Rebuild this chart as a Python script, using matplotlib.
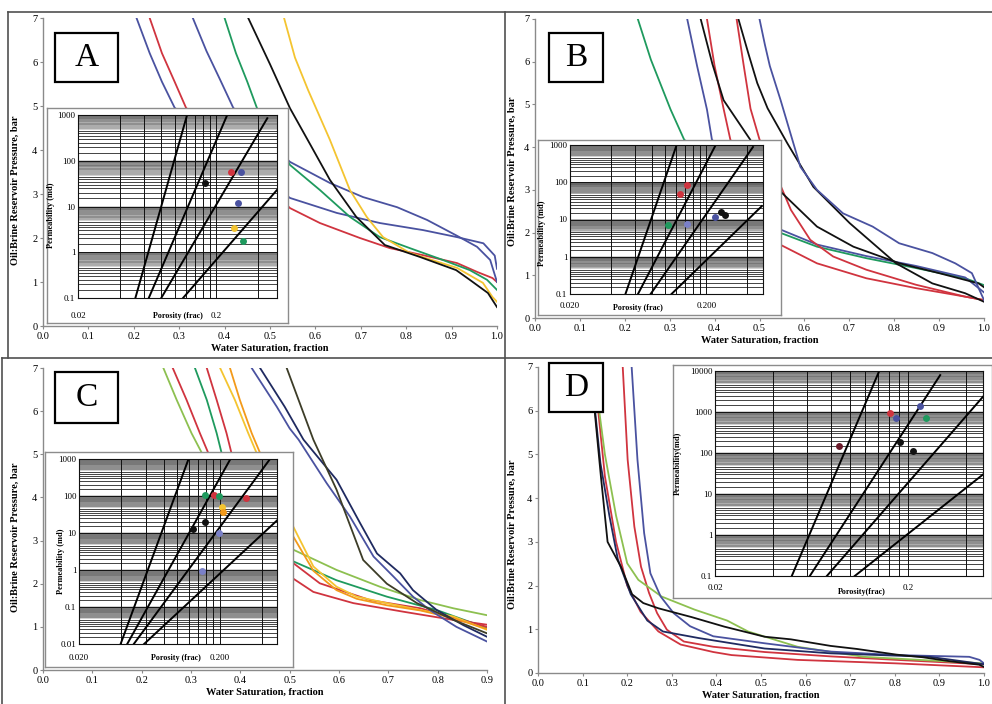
import numpy as np
import matplotlib.pyplot as plt
import matplotlib.patches as patches
from matplotlib.lines import Line2D
from matplotlib.ticker import NullFormatter

plt.rcParams['font.family'] = ['Liberation Serif', 'DejaVu Serif']

W, H = 992, 704

BLUE = '#4a52a0'
RED = '#d0343f'
GREEN = '#1f9a5e'
YELLOW = '#f4c430'
ORANGE = '#f39a1a'
LGREEN = '#8dc050'
BLACK = '#111111'
OLIVE = '#3d3d28'
NAVY = '#1f2a60'
MAROON = '#6a1a2a'
LBLUE = '#7a80c8'

# ---- panel A: capillary pressure curves ----
a_blue1_sw = [0.206, 0.235, 0.262, 0.29, 0.544, 0.647, 0.742, 0.837, 0.912, 0.97, 0.995, 1.0]
a_blue1_p = [7.0, 6.2, 5.55, 4.96, 2.91, 2.57, 2.34, 2.18, 2.02, 1.88, 1.6, 1.3]
a_red_sw = [0.235, 0.262, 0.29, 0.315, 0.544, 0.61, 0.698, 0.764, 0.837, 0.912, 0.956, 0.99, 1.0]
a_red_p = [7.0, 6.2, 5.55, 4.96, 2.68, 2.34, 2.0, 1.77, 1.61, 1.43, 1.23, 1.09, 1.0]
a_blue2_sw = [0.33, 0.36, 0.39, 0.419, 0.544, 0.632, 0.705, 0.78, 0.846, 0.912, 0.956, 0.985, 1.0]
a_blue2_p = [7.0, 6.25, 5.6, 4.96, 3.73, 3.25, 2.93, 2.7, 2.41, 2.05, 1.8, 1.5, 1.0]
a_green_sw = [0.40, 0.425, 0.45, 0.471, 0.544, 0.61, 0.676, 0.742, 0.808, 0.881, 0.94, 0.978, 1.0]
a_green_p = [7.0, 6.2, 5.55, 4.96, 3.66, 3.09, 2.48, 2.02, 1.77, 1.5, 1.27, 1.05, 0.82]
a_black_sw = [0.452, 0.5, 0.544, 0.59, 0.632, 0.69, 0.753, 0.83, 0.91, 0.94, 0.98, 1.0]
a_black_p = [7.0, 5.95, 4.95, 4.1, 3.32, 2.48, 1.84, 1.57, 1.27, 1.05, 0.75, 0.43]
a_yellow_sw = [0.531, 0.555, 0.584, 0.632, 0.676, 0.713, 0.749, 0.808, 0.912, 0.969, 0.99, 1.0]
a_yellow_p = [7.0, 6.1, 5.36, 4.23, 3.09, 2.48, 2.02, 1.66, 1.32, 0.98, 0.66, 0.55]

# ---- panel B ----
b_green_sw = [0.229, 0.258, 0.302, 0.332, 0.54, 0.628, 0.738, 0.848, 0.958, 1.0]
b_green_p = [7.0, 6.05, 4.88, 4.18, 2.02, 1.67, 1.4, 1.17, 0.93, 0.77]
b_blue1_sw = [0.339, 0.361, 0.383, 0.394, 0.54, 0.628, 0.738, 0.848, 0.958, 1.0]
b_blue1_p = [7.0, 5.9, 4.88, 4.18, 2.1, 1.72, 1.45, 1.22, 0.95, 0.6]
b_black1_sw = [0.369, 0.395, 0.42, 0.479, 0.543, 0.628, 0.709, 0.812, 0.9, 0.988, 1.0]
b_black1_p = [7.0, 5.95, 5.1, 4.18, 3.0, 2.14, 1.67, 1.28, 1.05, 0.81, 0.72]
b_red1_sw = [0.383, 0.40, 0.42, 0.435, 0.54, 0.628, 0.738, 0.848, 0.958, 1.0]
b_red1_p = [7.0, 5.9, 4.9, 4.18, 1.75, 1.28, 0.93, 0.7, 0.5, 0.42]
b_red2_sw = [0.449, 0.465, 0.48, 0.5, 0.54, 0.57, 0.613, 0.664, 0.738, 0.848, 0.958, 1.0]
b_red2_p = [7.0, 5.9, 4.9, 4.18, 3.27, 2.53, 1.83, 1.44, 1.13, 0.78, 0.5, 0.42]
b_black2_sw = [0.453, 0.475, 0.495, 0.518, 0.562, 0.62, 0.701, 0.804, 0.885, 0.958, 1.0]
b_black2_p = [7.0, 6.2, 5.5, 4.91, 4.09, 3.07, 2.22, 1.28, 0.81, 0.58, 0.38]
b_blue2_sw = [0.5, 0.512, 0.523, 0.547, 0.591, 0.628, 0.686, 0.752, 0.811, 0.885, 0.936, 0.973, 1.0]
b_blue2_p = [7.0, 6.4, 5.9, 5.1, 3.54, 3.0, 2.45, 2.14, 1.75, 1.52, 1.28, 1.05, 0.42]

# ---- panel C ----
c_lgreen_sw = [0.244, 0.271, 0.301, 0.322, 0.507, 0.595, 0.683, 0.765, 0.832, 0.9]
c_lgreen_p = [7.0, 6.26, 5.49, 5.03, 2.79, 2.32, 1.93, 1.62, 1.43, 1.27]
c_red1_sw = [0.263, 0.291, 0.318, 0.335, 0.507, 0.548, 0.629, 0.731, 0.832, 0.9]
c_red1_p = [7.0, 6.26, 5.49, 5.03, 2.12, 1.81, 1.55, 1.35, 1.16, 1.05]
c_green_sw = [0.308, 0.332, 0.352, 0.362, 0.507, 0.595, 0.697, 0.798, 0.9]
c_green_p = [7.0, 6.26, 5.49, 5.03, 2.52, 2.08, 1.7, 1.39, 0.97]
c_red2_sw = [0.332, 0.352, 0.372, 0.382, 0.507, 0.561, 0.663, 0.765, 0.9]
c_red2_p = [7.0, 6.26, 5.49, 5.03, 2.48, 2.01, 1.62, 1.43, 1.0]
c_yellow_sw = [0.359, 0.389, 0.416, 0.433, 0.507, 0.548, 0.595, 0.636, 0.697, 0.765, 0.832, 0.9]
c_yellow_p = [7.0, 6.26, 5.49, 5.03, 3.33, 2.4, 1.93, 1.7, 1.55, 1.39, 1.24, 0.93]
c_orange_sw = [0.379, 0.399, 0.423, 0.44, 0.507, 0.548, 0.595, 0.636, 0.697, 0.765, 0.832, 0.9]
c_orange_p = [7.0, 6.26, 5.49, 5.03, 3.1, 2.3, 1.85, 1.65, 1.5, 1.38, 1.2, 0.95]
c_blue1_sw = [0.423, 0.474, 0.5, 0.518, 0.575, 0.622, 0.67, 0.71, 0.75, 0.784, 0.838, 0.9]
c_blue1_p = [7.0, 6.1, 5.6, 5.34, 4.33, 3.56, 2.63, 2.17, 1.7, 1.39, 1.0, 0.66]
c_blue2_sw = [0.44, 0.49, 0.528, 0.595, 0.643, 0.677, 0.724, 0.75, 0.798, 0.852, 0.9]
c_blue2_p = [7.0, 6.1, 5.34, 4.41, 3.4, 2.7, 2.24, 1.85, 1.39, 1.04, 0.77]
c_olive_sw = [0.494, 0.52, 0.548, 0.595, 0.649, 0.697, 0.758, 0.832, 0.9]
c_olive_p = [7.0, 6.2, 5.34, 4.18, 2.55, 2.0, 1.55, 1.16, 0.85]

# ---- panel D ----
d_red_sw = [0.19, 0.201, 0.216, 0.231, 0.249, 0.267, 0.289, 0.327, 0.393, 0.508, 0.656, 0.804, 1.0]
d_red_p = [7.0, 4.88, 3.35, 2.43, 1.83, 1.37, 0.99, 0.72, 0.6, 0.48, 0.38, 0.3, 0.2]
d_red2_sw = [0.11, 0.13, 0.15, 0.175, 0.2, 0.23, 0.27, 0.32, 0.393, 0.434, 0.582, 0.804, 1.0]
d_red2_p = [7.0, 6.5, 4.5, 3.0, 2.0, 1.4, 0.95, 0.65, 0.48, 0.41, 0.3, 0.22, 0.13]
d_blue_sw = [0.21, 0.223, 0.238, 0.252, 0.275, 0.304, 0.341, 0.393, 0.508, 0.656, 0.804, 0.967, 0.99, 1.0]
d_blue_p = [7.0, 4.88, 3.2, 2.28, 1.75, 1.37, 1.07, 0.84, 0.68, 0.49, 0.41, 0.37, 0.3, 0.22]
d_navy_sw = [0.11, 0.125, 0.14, 0.16, 0.179, 0.208, 0.245, 0.28, 0.36, 0.508, 0.656, 0.878, 1.0]
d_navy_p = [7.0, 6.3, 4.8, 3.6, 2.6, 1.8, 1.2, 0.95, 0.8, 0.56, 0.45, 0.37, 0.2]
d_lgreen_sw = [0.12, 0.129, 0.15, 0.175, 0.2, 0.225, 0.277, 0.351, 0.424, 0.471, 0.582, 0.73, 1.0]
d_lgreen_p = [7.0, 6.64, 5.0, 3.6, 2.51, 2.13, 1.75, 1.45, 1.2, 0.95, 0.6, 0.37, 0.22]
d_black_sw = [0.11, 0.127, 0.141, 0.156, 0.186, 0.211, 0.236, 0.27, 0.344, 0.418, 0.508, 0.567,
              0.656, 0.715, 0.804, 0.863, 0.923, 0.989, 1.0]
d_black_p = [7.0, 6.0, 4.5, 3.0, 2.43, 1.8, 1.6, 1.48, 1.28, 1.06, 0.83, 0.77,
             0.62, 0.55, 0.42, 0.36, 0.27, 0.19, 0.14]

# ---- inset data: porosity (frac) vs permeability (md) ----
a_line_phi = [[0.052, 0.123], [0.065, 0.24], [0.080, 0.468], [0.115, 0.55]]
a_line_k = [[0.1, 1000], [0.1, 1000], [0.1, 850], [0.1, 23]]
a_pt_phi = [0.256, 0.30, 0.165, 0.287, 0.267, 0.31]
a_pt_k = [58, 58, 32, 12.2, 3.4, 1.8]
a_pt_col = [RED, BLUE, BLACK, BLUE, YELLOW, GREEN]

b_line_phi = [[0.051, 0.121], [0.063, 0.234], [0.078, 0.439], [0.111, 0.51]]
b_line_k = [[0.1, 1000], [0.1, 1000], [0.1, 883], [0.1, 22.9]]
b_pt_phi = [0.143, 0.128, 0.105, 0.145, 0.23, 0.258, 0.272]
b_pt_k = [82, 47, 7.0, 7.6, 11.8, 16, 13.2]
b_pt_col = [RED, RED, GREEN, LBLUE, BLUE, BLACK, BLACK]

c_line_phi = [[0.0395, 0.12], [0.044, 0.238], [0.049, 0.455], [0.058, 0.53]]
c_line_k = [[0.01, 1000], [0.01, 1000], [0.01, 1000], [0.01, 25]]
c_pt_phi = [0.158, 0.182, 0.198, 0.305, 0.206, 0.21, 0.158, 0.129, 0.198, 0.15]
c_pt_k = [104, 107, 100, 88, 52, 38, 19.6, 13, 10.3, 0.95]
c_pt_col = [GREEN, RED, GREEN, RED, YELLOW, ORANGE, BLACK, BLACK, LBLUE, LBLUE]

d_line_phi = [[0.05, 0.142], [0.062, 0.294], [0.076, 0.49], [0.106, 0.49]]
d_line_k = [[0.1, 10000], [0.1, 7943], [0.1, 2360], [0.1, 29.9]]
d_pt_phi = [0.162, 0.174, 0.232, 0.248, 0.088, 0.181, 0.212]
d_pt_k = [960, 700, 1390, 700, 147, 188, 112]
d_pt_col = [RED, BLUE, BLUE, GREEN, MAROON, BLACK, BLACK]

x_grid_phi = [0.04, 0.06, 0.08, 0.10, 0.12, 0.14, 0.16, 0.18, 0.4]
# horizontal grid multipliers inside each decade: sparse lower half, dense upper half
y_grid_sparse = [1.5, 2.0, 2.5, 3.0, 3.5, 4.0, 4.5]
y_grid_dense = list(np.arange(5.0, 10.0, 0.25))


def fbox(l, t, r, b):
    return [l / W, 1 - b / H, (r - l) / W, (b - t) / H]


def draw_main(fig, rect, xmax, curves, ylab_xy):
    ax = fig.add_axes(fbox(*rect))
    for sw, p, c in curves:
        ax.plot(sw, p, color=c, lw=1.3, solid_joinstyle='round')
    ax.set_xlim(0, xmax)
    ax.set_ylim(0, 7)
    xt = np.round(np.arange(0, xmax + 0.001, 0.1), 1)
    ax.set_xticks(xt, labels=[f'{v:.1f}' for v in xt])
    ax.set_yticks(range(8))
    for s in ['top', 'right']:
        ax.spines[s].set_visible(False)
    for s in ['left', 'bottom']:
        ax.spines[s].set_color('#8a8a8a')
        ax.spines[s].set_linewidth(1.0)
    ax.tick_params(direction='out', length=2.5, color='#8a8a8a', labelsize=7.5, pad=1.5)
    lab = ax.set_ylabel('Oil:Brine Reservoir Pressure, bar', fontsize=7.5, fontweight='bold')
    lab.set_va('center')
    ax.yaxis.set_label_coords(*ylab_xy)
    ax.set_xlabel('Water Saturation, fraction', fontsize=7.5, fontweight='bold', labelpad=2)
    return ax


def draw_inset(fig, frame, grid, xmax, ydec, xlabels, line_phi, line_k,
               pt_phi, pt_k, pt_col, xlab, ylab, ylab_xy, xlab_xy, xpad):
    fr = fig.add_axes(fbox(*frame))
    fr.set_xticks([])
    fr.set_yticks([])
    for s in fr.spines.values():
        s.set_color('#8c8c8c')
        s.set_linewidth(1.0)

    ax = fig.add_axes(fbox(*grid))
    ax.set_xscale('log')
    ax.set_yscale('log')
    ax.set_xlim(0.02, xmax)
    ax.set_ylim(ydec[0], ydec[-1])

    ax.set_yticks(ydec, labels=[f'{v:g}' for v in ydec])
    ax.set_xticks([0.02, 0.2], labels=xlabels)
    ax.set_xticks(x_grid_phi, minor=True)
    ax.set_yticks([], minor=True)
    ax.xaxis.set_minor_formatter(NullFormatter())
    ax.yaxis.set_minor_formatter(NullFormatter())
    ax.tick_params(which='both', length=0)
    ax.tick_params(axis='y', labelsize=6.5, pad=2)
    ax.tick_params(axis='x', labelsize=6.5, pad=xpad)
    ax.grid(which='major', color='#111111', lw=0.7)
    ax.grid(which='minor', axis='x', color='#111111', lw=0.7)

    ytr = ax.get_yaxis_transform()
    sparse = [d * m for d in ydec[:-1] for m in y_grid_sparse]
    dense = [d * m for d in ydec[:-1] for m in y_grid_dense]
    ax.hlines(sparse, 0, 1, transform=ytr, color='#111111', lw=0.55, zorder=0.6)
    ax.hlines(dense, 0, 1, transform=ytr, color='#222222', lw=0.3, zorder=0.6)
    for s in ax.spines.values():
        s.set_color('#111111')
        s.set_linewidth(0.8)

    for ph, k in zip(line_phi, line_k):
        ax.plot(ph, k, color='black', lw=1.4)
    for ph, k, c in zip(pt_phi, pt_k, pt_col):
        ax.plot(ph, k, 'o', color=c, ms=5, mec='none')

    lab = ax.set_ylabel(ylab, fontsize=6, fontweight='bold')
    lab.set_va('center')
    ax.yaxis.set_label_coords(*ylab_xy)
    lab = ax.set_xlabel(xlab, fontsize=5.8, fontweight='bold')
    lab.set_va('center')
    ax.xaxis.set_label_coords(*xlab_xy)
    return ax


def panel_box(fig, rect, letter):
    l, t, r, b = rect
    fig.add_artist(patches.Rectangle((l / W, 1 - b / H), (r - l) / W, (b - t) / H,
                                     transform=fig.transFigure, facecolor='white',
                                     edgecolor='black', lw=1.6, zorder=5))
    fig.text((l + r) / 2 / W, 1 - (t + b) / 2 / H, letter, fontsize=24,
             ha='center', va='center', zorder=6)


def frame_line(fig, x0, y0, x1, y1):
    fig.add_artist(Line2D([x0 / W, x1 / W], [1 - y0 / H, 1 - y1 / H],
                          transform=fig.transFigure, color='#505050', lw=1.2, zorder=7))


fig = plt.figure(figsize=(9.92, 7.04), dpi=100)

draw_main(fig, (43, 18, 497, 326), 1.0,
          [(a_blue1_sw, a_blue1_p, BLUE), (a_red_sw, a_red_p, RED),
           (a_blue2_sw, a_blue2_p, BLUE), (a_green_sw, a_green_p, GREEN),
           (a_yellow_sw, a_yellow_p, YELLOW), (a_black_sw, a_black_p, BLACK)],
          (-0.062, 0.44))
draw_main(fig, (535, 19, 984, 318), 1.0,
          [(b_green_sw, b_green_p, GREEN), (b_blue1_sw, b_blue1_p, BLUE),
           (b_red1_sw, b_red1_p, RED), (b_red2_sw, b_red2_p, RED),
           (b_black1_sw, b_black1_p, BLACK), (b_black2_sw, b_black2_p, BLACK),
           (b_blue2_sw, b_blue2_p, BLUE)],
          (-0.05, 0.49))
draw_main(fig, (43, 368, 487, 670), 0.9,
          [(c_lgreen_sw, c_lgreen_p, LGREEN), (c_red1_sw, c_red1_p, RED),
           (c_green_sw, c_green_p, GREEN), (c_red2_sw, c_red2_p, RED),
           (c_yellow_sw, c_yellow_p, YELLOW), (c_orange_sw, c_orange_p, ORANGE),
           (c_blue1_sw, c_blue1_p, BLUE), (c_blue2_sw, c_blue2_p, NAVY),
           (c_olive_sw, c_olive_p, OLIVE)],
          (-0.063, 0.44))
draw_main(fig, (538, 367, 984, 673), 1.0,
          [(d_red2_sw, d_red2_p, RED), (d_red_sw, d_red_p, RED),
           (d_lgreen_sw, d_lgreen_p, LGREEN), (d_blue_sw, d_blue_p, BLUE),
           (d_navy_sw, d_navy_p, NAVY), (d_black_sw, d_black_p, BLACK)],
          (-0.057, 0.455))

draw_inset(fig, (47, 108, 288, 323), (78, 115, 277, 298), 0.55,
           [0.1, 1, 10, 100, 1000], ['0.02', '0.2'], a_line_phi, a_line_k,
           a_pt_phi, a_pt_k, a_pt_col, 'Porosity (frac)', 'Permeability (md)',
           (-0.134, 0.45), (0.5, -0.1), 10)
draw_inset(fig, (538, 140, 781, 315), (570, 145, 763, 294), 0.52,
           [0.1, 1, 10, 100, 1000], ['0.020', '0.200'], b_line_phi, b_line_k,
           b_pt_phi, b_pt_k, b_pt_col, 'Porosity (frac)', 'Permeability (md)',
           (-0.146, 0.41), (0.35, -0.094), 6)
draw_inset(fig, (45, 452, 293, 667), (79, 459, 277, 644), 0.51,
           [0.01, 0.1, 1, 10, 100, 1000], ['0.020', '0.200'], c_line_phi, c_line_k,
           c_pt_phi, c_pt_k, c_pt_col, 'Porosity (frac)', 'Permeability (md)',
           (-0.09, 0.446), (0.49, -0.077), 7)
draw_inset(fig, (673, 365, 992, 598), (715, 371, 983, 576), 0.49,
           [0.1, 1, 10, 100, 1000, 10000], ['0.02', '0.2'], d_line_phi, d_line_k,
           d_pt_phi, d_pt_k, d_pt_col, 'Porosity(frac)', 'Permeability(md)',
           (-0.137, 0.55), (0.547, -0.078), 6)

panel_box(fig, (55, 33, 118, 82), 'A')
panel_box(fig, (549, 33, 603, 82), 'B')
panel_box(fig, (55, 372, 118, 423), 'C')
panel_box(fig, (549, 363, 603, 412), 'D')

# panel borders
frame_line(fig, 8, 12, 992, 12)
frame_line(fig, 8, 12, 8, 358)
frame_line(fig, 505, 12, 505, 704)
frame_line(fig, 2, 358, 992, 358)
frame_line(fig, 2, 358, 2, 704)

fig.savefig('out.png', dpi=100, facecolor='white')
